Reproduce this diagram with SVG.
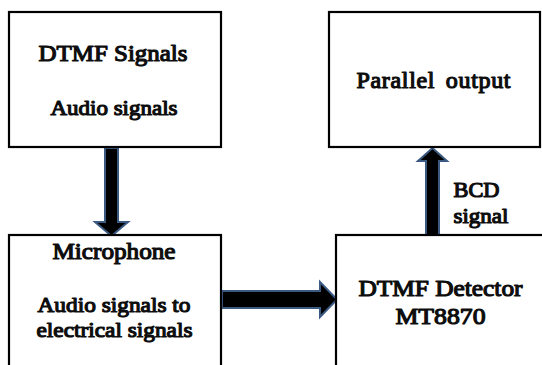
<svg xmlns="http://www.w3.org/2000/svg" width="542" height="365" viewBox="0 0 542 365">
  <style>
    .box { fill: #ffffff; stroke: #000000; stroke-width: 2.2; }
    .arrow { fill: #000000; stroke: #3a5a82; stroke-width: 2; stroke-linejoin: miter; }
    /* serif labels, thickened with a thin outline of the same colour */
    .t { font-family: "Liberation Serif", "Times New Roman", serif; font-weight: normal; fill: #0d0d0d;
         stroke: #0d0d0d; stroke-width: 1.2; stroke-linejoin: round; text-anchor: middle; }
    .big { font-size: 24px; }
    .mid { font-size: 22px; }
    .left { text-anchor: start; }
  </style>
  <rect width="542" height="365" fill="#ffffff"/>

  <g id="connectors">
    <!-- DTMF Signals to Microphone -->
    <path class="arrow" d="M105,148 L118,148 L118,222 L128,222 L111.5,236 L95,222 L105,222 Z"/>
    <!-- Microphone to DTMF Detector -->
    <path class="arrow" d="M222,291 L320,291 L320,282 L337,299.5 L320,317 L320,308 L222,308 Z"/>
    <!-- DTMF Detector to Parallel output -->
    <path class="arrow" d="M426,235 L426,161 L418,161 L432.5,148 L447,161 L439,161 L439,235 Z"/>
    <text class="t mid left" x="453.5" y="197" textLength="46" lengthAdjust="spacingAndGlyphs">BCD</text>
    <text class="t mid left" x="453.5" y="223" textLength="55" lengthAdjust="spacingAndGlyphs">signal</text>
  </g>

  <g id="dtmf-signals">
    <rect class="box" x="9" y="12" width="212" height="135"/>
    <text class="t big" x="113" y="61" textLength="149" lengthAdjust="spacingAndGlyphs">DTMF Signals</text>
    <text class="t mid" x="114" y="115" textLength="127" lengthAdjust="spacingAndGlyphs">Audio signals</text>
  </g>

  <g id="parallel-output">
    <rect class="box" x="329" y="12" width="211" height="135"/>
    <text class="t big" x="433.5" y="88" textLength="154" lengthAdjust="spacing" style="word-spacing:4px">Parallel output</text>
  </g>

  <g id="microphone">
    <rect class="box" x="9" y="235" width="212" height="140"/>
    <text class="t big" x="114" y="259" textLength="123" lengthAdjust="spacingAndGlyphs">Microphone</text>
    <text class="t mid" x="114" y="312" textLength="153" lengthAdjust="spacingAndGlyphs">Audio signals to</text>
    <text class="t mid" x="114.5" y="337" textLength="156" lengthAdjust="spacingAndGlyphs">electrical signals</text>
  </g>

  <g id="dtmf-detector">
    <rect class="box" x="336" y="235" width="220" height="140"/>
    <text class="t big" x="440.5" y="296" textLength="164" lengthAdjust="spacingAndGlyphs">DTMF Detector</text>
    <text class="t big" x="440.5" y="324" textLength="90" lengthAdjust="spacingAndGlyphs">MT8870</text>
  </g>
</svg>
